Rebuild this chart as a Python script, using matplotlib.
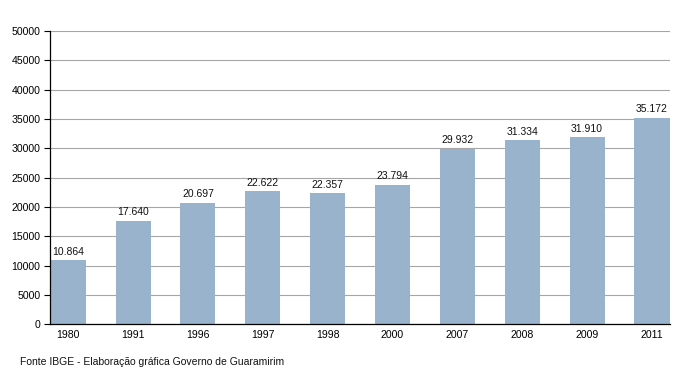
import matplotlib
matplotlib.use("Agg")
from matplotlib import pyplot as plt

years = ['1980', '1991', '1996', '1997', '1998', '2000', '2007', '2008', '2009', '2011']
populacao = [10864, 17640, 20697, 22622, 22357, 23794, 29932, 31334, 31910, 35172]
yticks = [0, 5000, 10000, 15000, 20000, 25000, 30000, 35000, 40000, 45000, 50000]

plt.rcParams['font.family'] = ['Liberation Sans', 'DejaVu Sans']

fig = plt.figure(figsize=(7, 3.73), dpi=100)
ax = fig.add_axes([0.0714, 0.131, 0.886, 0.786])

x = range(len(years))
bars = ax.bar(x, populacao, width=0.54, color='#9ab3cd', zorder=2)
for xi, v in zip(x, populacao):
    label = f'{v:,}'.replace(',', '.')
    ax.text(xi, v + 600, label, ha='center', va='bottom', fontsize=7.5, color='#111111')

ax.set_xlim(-0.28, len(years) - 0.72)
ax.set_ylim(0, 50000)
ax.set_yticks(yticks)
ax.set_yticklabels([str(t) for t in yticks], fontsize=7.6)
ax.set_xticks(list(x))
ax.set_xticklabels(years, fontsize=7.6)
ax.tick_params(axis='x', length=0, pad=4)
ax.tick_params(axis='y', length=4, width=0.8, pad=3)
ax.yaxis.grid(True, color='#a6a6a6', linewidth=0.8, zorder=0)
ax.set_axisbelow(True)
for s in ['top', 'right']:
    ax.spines[s].set_visible(False)
ax.spines['left'].set_linewidth(0.9)
ax.spines['bottom'].set_linewidth(0.9)

fig.text(20 / 700, 1 - 362 / 373, 'Fonte IBGE - Elaboração gráfica Governo de Guaramirim',
         fontsize=7.45, va='center', ha='left', color='#111111')

fig.savefig('out.png', dpi=100)
